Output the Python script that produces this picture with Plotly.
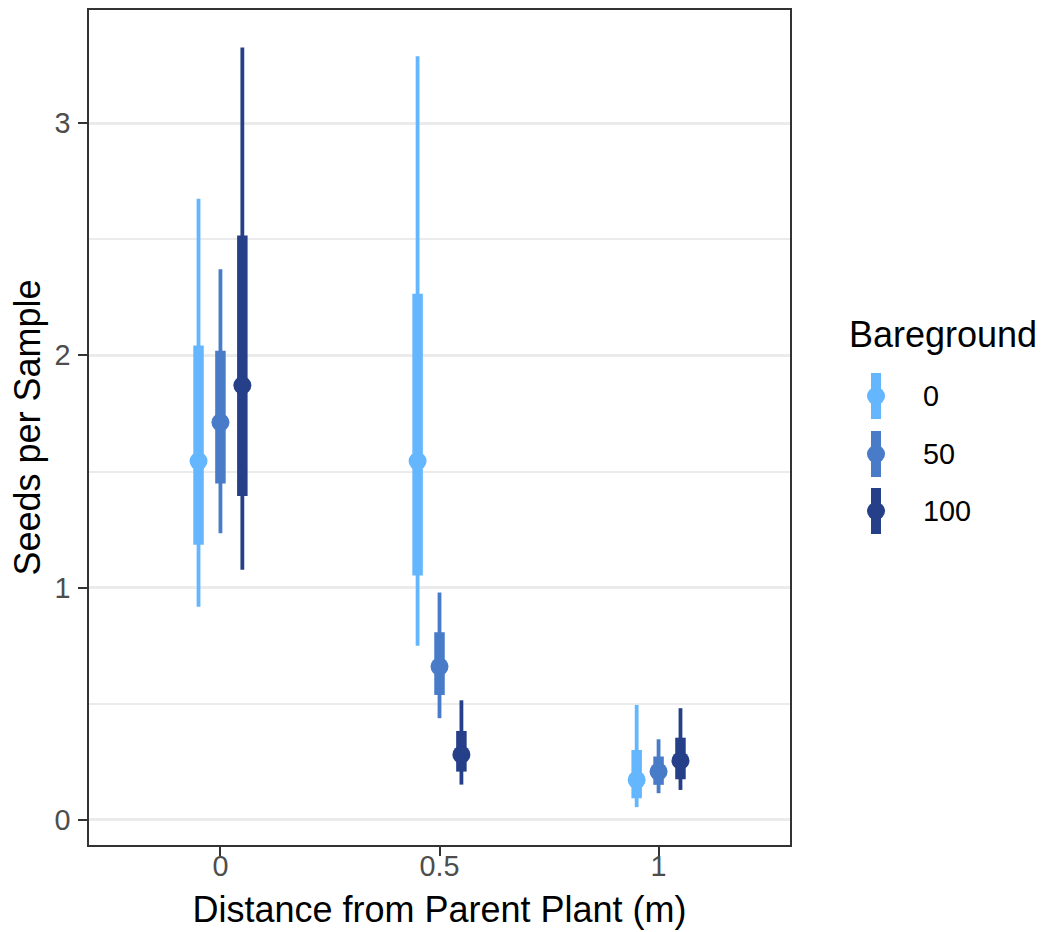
import plotly.graph_objects as go

# Seed counts per sample by distance from the parent plant, summarised as
# median with 66% (thick) and 95% (thin) intervals for each bareground level.
distance = [0, 0.5, 1]
bareground = ["0", "50", "100"]
colors = {"0": "#64B7FE", "50": "#487BC8", "100": "#263F89"}
dodge = {"0": -0.05, "50": 0.0, "100": 0.05}

median = {
    "0": [1.545, 1.545, 0.172],
    "50": [1.712, 0.660, 0.208],
    "100": [1.871, 0.281, 0.255],
}
lo66 = {
    "0": [1.185, 1.052, 0.093],
    "50": [1.448, 0.538, 0.151],
    "100": [1.395, 0.208, 0.175],
}
hi66 = {
    "0": [2.043, 2.265, 0.301],
    "50": [2.020, 0.808, 0.273],
    "100": [2.516, 0.383, 0.354],
}
lo95 = {
    "0": [0.918, 0.750, 0.055],
    "50": [1.234, 0.438, 0.115],
    "100": [1.077, 0.152, 0.129],
}
hi95 = {
    "0": [2.674, 3.288, 0.495],
    "50": [2.371, 0.979, 0.347],
    "100": [3.326, 0.515, 0.481],
}

FONT = "Liberation Sans, Arial, Helvetica, sans-serif"
TITLE_SIZE, TEXT_SIZE = 36, 28.8
THIN, THICK, DOT = 3.8, 10.5, 18

fig = go.Figure()
for bg in bareground:
    xs = [d + dodge[bg] for d in distance]
    m = median[bg]
    c = colors[bg]
    # 95% interval
    fig.add_trace(go.Scatter(
        x=xs, y=m, mode="markers", marker=dict(size=1, color="rgba(0,0,0,0)"),
        error_y=dict(type="data", symmetric=False,
                     array=[h - v for h, v in zip(hi95[bg], m)],
                     arrayminus=[v - l for l, v in zip(lo95[bg], m)],
                     color=c, thickness=THIN, width=0),
        showlegend=False, hoverinfo="skip"))
    # 66% interval
    fig.add_trace(go.Scatter(
        x=xs, y=m, mode="markers", marker=dict(size=1, color="rgba(0,0,0,0)"),
        error_y=dict(type="data", symmetric=False,
                     array=[h - v for h, v in zip(hi66[bg], m)],
                     arrayminus=[v - l for l, v in zip(lo66[bg], m)],
                     color=c, thickness=THICK, width=0),
        showlegend=False, hoverinfo="skip"))
    # median point
    fig.add_trace(go.Scatter(
        x=xs, y=m, mode="markers",
        marker=dict(size=DOT, color=c, line=dict(width=0)),
        name=bg, showlegend=False))

# Legend drawn as interval keys beside the panel
L, R, T, B = 89, 790, 10, 845
W, H = 1042, 932
pw, ph = R - L, B - T


def px(xp):
    return (xp - L) / pw


def py(yp):
    return (B - yp) / ph


fig.add_annotation(x=px(847), y=py(334), xref="paper", yref="paper",
                   text="Bareground", showarrow=False, xanchor="left",
                   yanchor="middle",
                   font=dict(family=FONT, size=TITLE_SIZE, color="#000000"))
key_y = [396, 454, 511]
for bg, ky in zip(bareground, key_y):
    c = colors[bg]
    fig.add_shape(type="rect", xref="paper", yref="paper",
                  x0=px(871), x1=px(881), y0=py(ky - 23), y1=py(ky + 23),
                  fillcolor=c, line=dict(width=0))
    fig.add_shape(type="circle", xref="paper", yref="paper",
                  x0=px(876 - 9), x1=px(876 + 9), y0=py(ky - 9), y1=py(ky + 9),
                  fillcolor=c, line=dict(width=0))
    fig.add_annotation(x=px(921), y=py(ky), xref="paper", yref="paper",
                       text=bg, showarrow=False, xanchor="left", yanchor="middle",
                       font=dict(family=FONT, size=TEXT_SIZE, color="#000000"))

axis_common = dict(
    showline=True, mirror=True, linecolor="#333333", linewidth=1.5,
    ticks="outside", ticklen=9, tickwidth=2.2, tickcolor="#333333",
    tickfont=dict(family=FONT, size=TEXT_SIZE, color="#4D4D4D"),
    zeroline=False, automargin=False,
)

fig.update_layout(
    width=W, height=H,
    margin=dict(l=L, r=W - R, t=T, b=H - B),
    paper_bgcolor="white", plot_bgcolor="white",
    font=dict(family=FONT),
    showlegend=False,
    xaxis=dict(
        range=[-0.3, 1.3], tickvals=[0, 0.5, 1], ticktext=["0", "0.5", "1"],
        showgrid=False, ticklabelstandoff=-14,
        title=dict(text="Distance from Parent Plant (m)",
                   font=dict(family=FONT, size=TITLE_SIZE, color="#000000"),
                   standoff=15),
        **axis_common),
    yaxis=dict(
        range=[-0.108, 3.487], tickvals=[0, 1, 2, 3],
        showgrid=True, gridcolor="#EBEBEB", gridwidth=3,
        minor=dict(tickvals=[0.5, 1.5, 2.5], showgrid=True,
                   gridcolor="#EBEBEB", gridwidth=1.6, ticks=""),
        ticklabelstandoff=2,
        title=dict(text="Seeds per Sample",
                   font=dict(family=FONT, size=TITLE_SIZE, color="#000000"),
                   standoff=3),
        **axis_common),
)

fig.write_html("out.html")
